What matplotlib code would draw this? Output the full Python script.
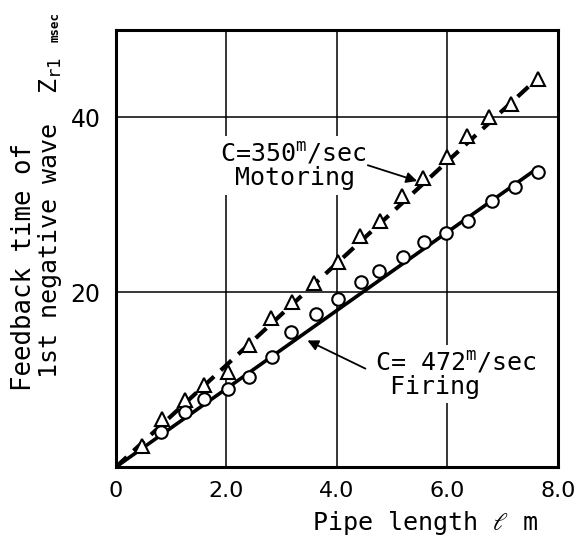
import matplotlib
matplotlib.use("Agg")
import matplotlib.pyplot as plt

# measured feedback times (msec) vs pipe length (m)
mot_x = [0.47, 0.83, 1.25, 1.59, 2.03, 2.41, 2.81, 3.19, 3.58, 4.02,
         4.42, 4.78, 5.18, 5.56, 5.99, 6.35, 6.75, 7.15, 7.64]
mot_y = [2.4, 5.5, 7.6, 9.4, 10.9, 13.9, 17.0, 18.9, 21.0, 23.4,
         26.4, 28.1, 31.0, 33.0, 35.4, 37.8, 40.0, 41.5, 44.4]

fir_x = [0.81, 1.25, 1.59, 2.03, 2.41, 2.82, 3.17, 3.62, 4.02,
         4.43, 4.76, 5.19, 5.57, 5.97, 6.37, 6.81, 7.22, 7.64]
fir_y = [4.0, 6.3, 7.8, 8.9, 10.3, 12.6, 15.4, 17.5, 19.2,
         21.2, 22.4, 24.0, 25.7, 26.7, 28.1, 30.4, 32.0, 33.7]

# theoretical lines (C=350 and C=472 m/sec)
mot_line_x = [0, 7.64]
mot_line_y = [0, 44.5]
fir_line_x = [0, 7.64]
fir_line_y = [0, 34.2]

x_ticks = [0, 2, 4, 6, 8]
x_ticklabels = ["0", "2.0", "4.0", "6.0", "8.0"]
y_ticks = [20, 40]
y_ticklabels = ["20", "40"]

plt.rcParams['mathtext.default'] = 'regular'
label_font = ['DejaVu Sans Mono', 'DejaVu Sans']
num_font = ['DejaVu Sans']

fig = plt.figure(figsize=(5.83, 5.41), dpi=100)
ax = fig.add_axes([0.199, 0.137, 0.758, 0.808])

ax.plot(mot_line_x, mot_line_y, color='k', lw=3.0, linestyle=(0, (3.5, 2.2)), zorder=3)
ax.plot(fir_line_x, fir_line_y, color='k', lw=2.6, zorder=3)
ax.plot(mot_x, mot_y, linestyle='none', marker='^', ms=10.5, mfc='white', mec='k', mew=1.5, zorder=4)
ax.plot(fir_x, fir_y, linestyle='none', marker='o', ms=9, mfc='white', mec='k', mew=1.5, zorder=4)

ax.set_xlim(0, 8)
ax.set_ylim(0, 50)
ax.set_xticks(x_ticks)
ax.set_xticklabels(x_ticklabels, fontfamily=num_font, fontsize=16)
ax.set_yticks(y_ticks)
ax.set_yticklabels(y_ticklabels, fontfamily=num_font, fontsize=17)
ax.tick_params(length=0)
ax.tick_params(axis='x', pad=10)
ax.tick_params(axis='y', pad=11)
ax.grid(True, color='k', lw=1.1)
ax.set_axisbelow(True)
for s in ax.spines.values():
    s.set_linewidth(2.2)

ax.text(1.88, 34.5, "C=350$^{m}$/sec\n Motoring", fontfamily=label_font, fontsize=18,
        ha='left', va='center', linespacing=1.0, zorder=2,
        bbox=dict(facecolor='white', edgecolor='none', pad=3))
ax.annotate("", xy=(5.50, 32.6), xytext=(4.51, 34.6),
            arrowprops=dict(arrowstyle='-|>', color='k', lw=1.3, mutation_scale=16), zorder=5)

ax.text(4.69, 10.6, "C= 472$^{m}$/sec\n Firing", fontfamily=label_font, fontsize=18,
        ha='left', va='center', linespacing=1.0, zorder=2,
        bbox=dict(facecolor='white', edgecolor='none', pad=3))
ax.annotate("", xy=(3.42, 14.6), xytext=(4.56, 11.1),
            arrowprops=dict(arrowstyle='-|>', color='k', lw=1.3, mutation_scale=16), zorder=5)

# axis titles
fig.text(425 / 583, 1 - 523 / 541, "Pipe length $\\ell$ m", fontfamily=label_font,
         fontsize=18, ha='center', va='center')
fig.text(24 / 583, 1 - 267 / 541, "Feedback time of", fontfamily=label_font,
         fontsize=18.5, rotation=90, ha='center', va='center')
fig.text(50 / 583, 1 - 378 / 541, "1st negative wave", fontfamily=label_font,
         fontsize=18, rotation=90, ha='center', va='bottom')
fig.text(51 / 583, 1 - 94 / 541, "Z$_{r1}$", fontfamily=label_font,
         fontsize=18, rotation=90, ha='center', va='bottom')
fig.text(55 / 583, 1 - 42 / 541, "msec", fontfamily=label_font,
         fontsize=9, fontweight='bold', rotation=90, ha='center', va='bottom')

fig.savefig("out.png", dpi=100)
